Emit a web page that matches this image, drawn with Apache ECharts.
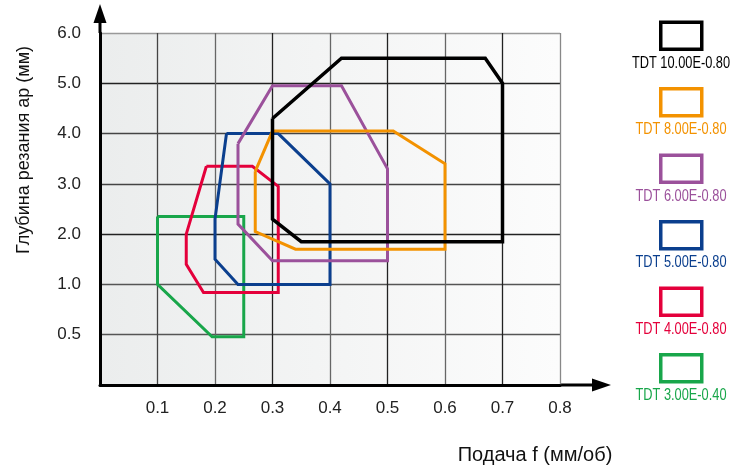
<!DOCTYPE html>
<html lang="ru">
<head>
    <meta charset="UTF-8">
    <title>Области применения TDT</title>
    <script src="https://cdn.jsdelivr.net/npm/echarts@6/dist/echarts.min.js"></script>
</head>
<style>
    *{
        margin: 0;
    }
    html,body{
        width: 745px;
        height: 468px;
        background: #fff;
    }
    #chart{
        width: 745px;
        height: 468px;
    }
</style>
<body>
<div id="chart"></div>
<script>
    // подача f, мм/об; глубина резания ap, мм
    const names = ['TDT 10.00E-0.80', 'TDT 8.00E-0.80', 'TDT 6.00E-0.80', 'TDT 5.00E-0.80', 'TDT 4.00E-0.80', 'TDT 3.00E-0.40'];
    const colors = ['#000000', '#f39200', '#9b519b', '#0b3f8e', '#e4003b', '#18a64a'];

    const tdt10 = [[0.30, 4.3], [0.42, 5.5], [0.67, 5.5], [0.70, 5.0], [0.70, 1.85], [0.35, 1.85], [0.30, 2.3]];
    const tdt8 = [[0.27, 3.25], [0.30, 4.05], [0.51, 4.05], [0.60, 3.4], [0.60, 1.7], [0.34, 1.7], [0.27, 2.05]];
    const tdt6 = [[0.24, 3.8], [0.30, 4.95], [0.42, 4.95], [0.50, 3.3], [0.50, 1.47], [0.30, 1.47], [0.24, 2.2]];
    const tdt5 = [[0.22, 4.0], [0.31, 4.0], [0.40, 3.0], [0.40, 1.0], [0.24, 1.0], [0.20, 1.5], [0.20, 2.3]];
    const tdt4 = [[0.185, 3.35], [0.265, 3.35], [0.31, 2.95], [0.31, 0.92], [0.18, 0.92], [0.15, 1.4], [0.15, 2.0]];
    const tdt3 = [[0.10, 2.35], [0.25, 2.35], [0.25, 0.48], [0.195, 0.48], [0.10, 1.0]];

    const depthLabels = ['', '0.5', '1.0', '2.0', '3.0', '4.0', '5.0', '6.0'];
    const feedLabels = ['', '0.1', '0.2', '0.3', '0.4', '0.5', '0.6', '0.7', '0.8'];

    const G = {left: 100, top: 33, right: 185, bottom: 83};
    const W = 745, H = 468;
    const x0 = G.left, y0 = H - G.bottom, x1 = W - G.right, y1 = G.top;

    // шкала глубины неравномерная: 0.5 и 1.0 занимают отдельные клетки
    function depthToRow(d){
        return d >= 1 ? d + 1 : 1 + (d - 0.5) * 2;
    }
    function closeShape(pts){
        let out = pts.map(p => [p[0], depthToRow(p[1])]);
        out.push(out[0]);
        return out;
    }

    const shapes = [tdt10, tdt8, tdt6, tdt5, tdt4, tdt3];
    const font = '"Liberation Sans", Arial, sans-serif';

    let series = shapes.map((s, i) => ({
        name: names[i],
        type: 'line',
        data: closeShape(s),
        symbol: 'none',
        silent: true,
        z: 10 - i,
        lineStyle: {color: colors[i], width: i === 0 ? 3.5 : 3, join: 'miter'},
        itemStyle: {color: colors[i]}
    }));

    let legendTop = 20.5, legendStep = 66.5, iconH = 27, iconBorder = 3.5;
    let graphic = [
        // стрелки осей
        {type: 'line', shape: {x1: x0, y1: y1, x2: x0, y2: 18}, style: {stroke: '#000', lineWidth: 3}},
        {type: 'polygon', shape: {points: [[x0, 4], [x0 - 6.5, 23], [x0 + 6.5, 23]]}, style: {fill: '#000'}},
        {type: 'line', shape: {x1: x1, y1: y0, x2: 596, y2: y0}, style: {stroke: '#000', lineWidth: 3}},
        {type: 'polygon', shape: {points: [[611, y0], [592, y0 - 6.5], [592, y0 + 6.5]]}, style: {fill: '#000'}},
        // подписи осей
        {type: 'text', x: 24, y: 150, rotation: Math.PI / 2,
            style: {text: 'Глубина резания ap (мм)', font: '18px ' + font, fill: '#111', align: 'center', verticalAlign: 'middle'}},
        {type: 'text', x: 535, y: 455,
            style: {text: 'Подача f (мм/об)', font: '20px ' + font, fill: '#111', align: 'center', verticalAlign: 'middle'}}
    ];
    names.forEach((n, i) => {
        graphic.push({type: 'text', x: 681, y: legendTop + i * legendStep + 43, scaleX: 0.8,
            style: {text: n, font: '16px ' + font, fill: colors[i], align: 'center', verticalAlign: 'middle'}});
    });

    let chart = echarts.init(document.getElementById('chart'), null, {renderer: 'canvas'});
    chart.setOption({
        animation: false,
        textStyle: {fontFamily: font},
        grid: {
            left: G.left, right: G.right, top: G.top, bottom: G.bottom,
            show: true, borderWidth: 0,
            backgroundColor: {
                type: 'linear', x: 0, y: 0, x2: 1, y2: 0,
                colorStops: [{offset: 0, color: '#ebeded'}, {offset: 1, color: '#fcfcfc'}]
            }
        },
        legend: {
            orient: 'vertical',
            left: 659,
            top: legendTop,
            padding: 0,
            itemWidth: 41,
            itemHeight: iconH,
            itemGap: legendStep - iconH - iconBorder,
            selectedMode: false,
            formatter: () => '',
            data: names.map((n, i) => ({
                name: n,
                icon: 'rect',
                itemStyle: {color: 'rgba(255,255,255,0)', borderColor: colors[i], borderWidth: iconBorder}
            }))
        },
        xAxis: {
            type: 'value',
            min: 0, max: 0.8, interval: 0.1,
            axisLine: {show: true, lineStyle: {color: '#000', width: 3}},
            axisTick: {show: false},
            axisLabel: {
                margin: 15, fontSize: 17, color: '#222',
                formatter: v => feedLabels[Math.round(v * 10)]
            },
            splitLine: {show: true, lineStyle: {color: ['#222', '#444', '#666', '#222', '#666', '#222', '#666', '#222', '#888'], width: 1.3}}
        },
        yAxis: {
            type: 'value',
            min: 0, max: 7, interval: 1,
            axisLine: {show: true, lineStyle: {color: '#000', width: 3}},
            axisTick: {show: false},
            axisLabel: {
                margin: 19, fontSize: 17, color: '#222',
                formatter: v => depthLabels[Math.round(v)]
            },
            splitLine: {show: true, lineStyle: {color: ['#222', '#555', '#555', '#222', '#444', '#444', '#222', '#999'], width: 1.3}}
        },
        graphic: graphic,
        series: series
    });
</script>
</body>
</html>
